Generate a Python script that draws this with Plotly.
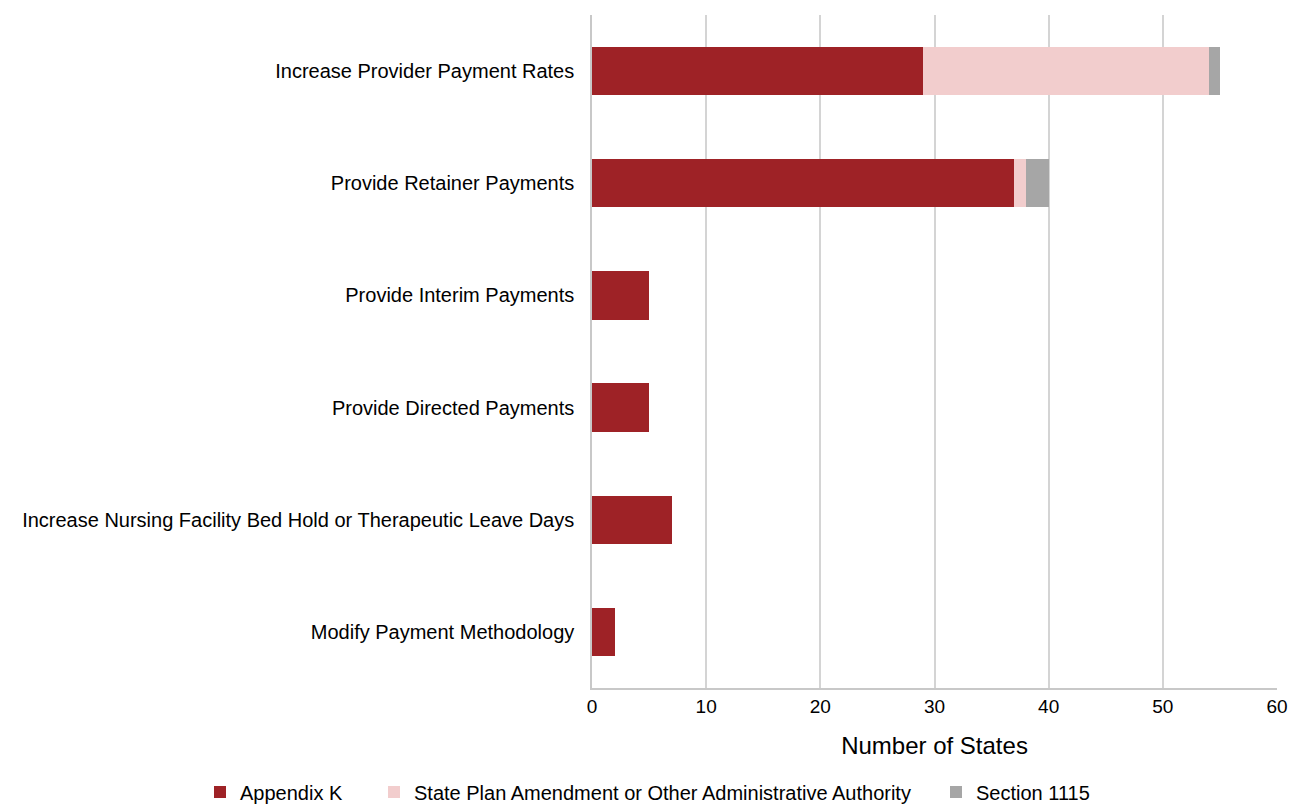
import plotly.graph_objects as go

categories = [
    "Increase Provider Payment Rates",
    "Provide Retainer Payments",
    "Provide Interim Payments",
    "Provide Directed Payments",
    "Increase Nursing Facility Bed Hold or Therapeutic Leave Days",
    "Modify Payment Methodology",
]
appendix_k = [29, 37, 5, 5, 7, 2]
state_plan = [25, 1, 0, 0, 0, 0]
section_1115 = [1, 2, 0, 0, 0, 0]

series = [
    ("Appendix K", appendix_k, "#9e2226", "legend"),
    ("State Plan Amendment or Other Administrative Authority", state_plan, "#f2cdcd", "legend2"),
    ("Section 1115", section_1115, "#a6a6a6", "legend3"),
]

fig = go.Figure()
for name, vals, color, leg in series:
    fig.add_trace(go.Bar(
        y=categories, x=vals, name=name, orientation="h", legend=leg,
        showlegend=True,
        marker=dict(color=color, line=dict(width=0)),
    ))

L, R, T, B = 592, 14, 15, 116
W, H = 1291, 804

# legends placed in container (pixel / size) coordinates
leg_y = 1 - 792 / H
leg_common = dict(orientation="h", xref="container", yref="container",
                  xanchor="left", y=leg_y, yanchor="middle",
                  font=dict(size=20), itemwidth=30, bgcolor="rgba(0,0,0,0)")

fig.update_layout(
    showlegend=True,
    barmode="stack",
    bargap=0.57,
    width=W, height=H,
    margin=dict(l=L, r=R, t=T, b=B, autoexpand=False),
    plot_bgcolor="white", paper_bgcolor="white",
    font=dict(family="Liberation Sans, Arial, sans-serif", size=20, color="#000"),
    xaxis=dict(
        range=[0, 60], dtick=10, showgrid=True, gridcolor="#d4d4d4", gridwidth=1.5,
        showline=True, linecolor="#c8c8c8", linewidth=1.5, zeroline=False,
        ticks="", tickfont=dict(size=19),
        title=dict(text="Number of States", font=dict(size=24), standoff=22),
    ),
    yaxis=dict(
        categoryorder="array", categoryarray=categories, autorange="reversed",
        showline=True, linecolor="#c8c8c8", linewidth=1.5, ticks="",
        ticklabelstandoff=12,
    ),
    legend=dict(x=(240 - 40) / W, **leg_common),
    legend2=dict(x=(414 - 40) / W, **leg_common),
    legend3=dict(x=(976 - 40) / W, **leg_common),
)

fig.write_html("out.html", config={"displayModeBar": False},
               post_script="document.body.style.margin='0';")
